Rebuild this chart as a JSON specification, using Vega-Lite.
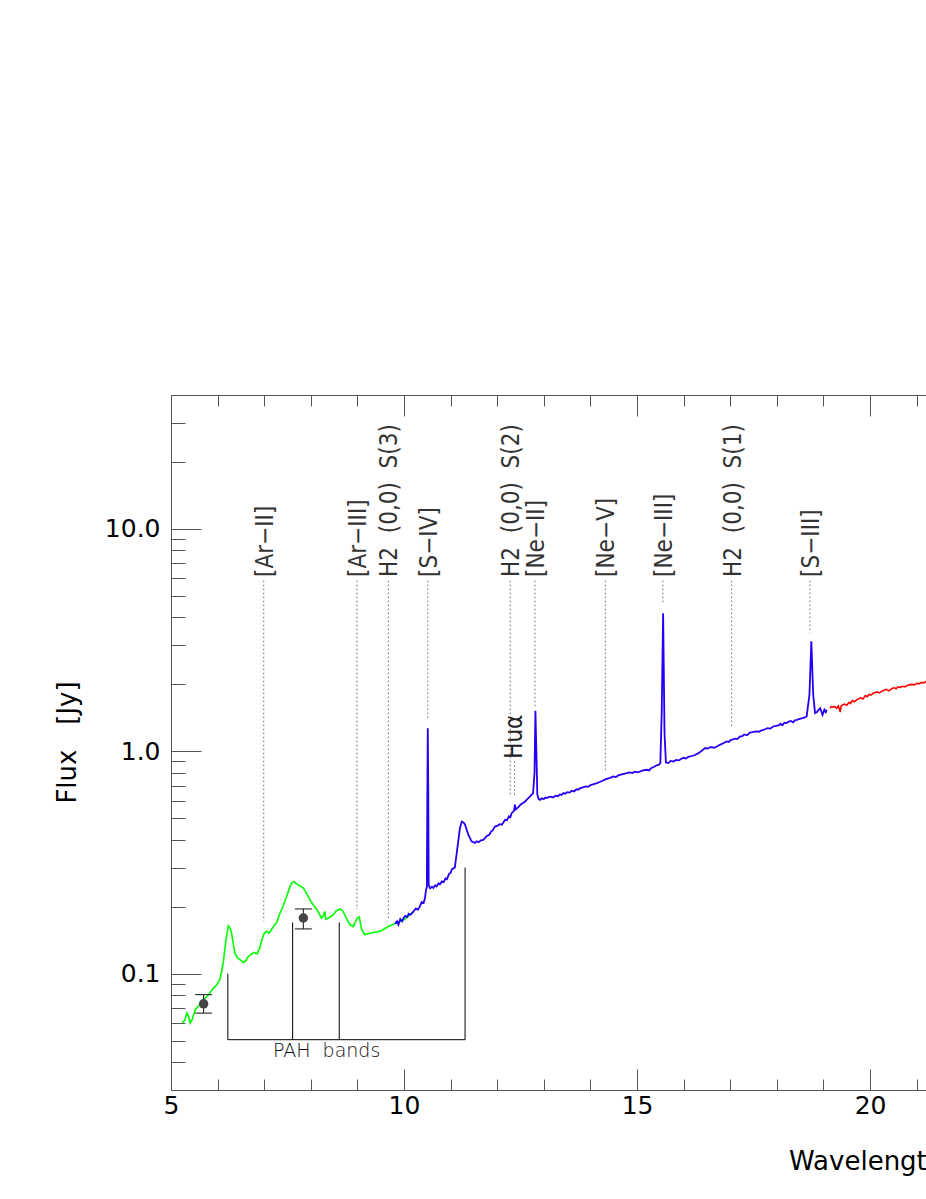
{
  "$schema": "https://vega.github.io/schema/vega-lite/v6.json",
  "autosize": {"type": "none"},
  "width": 1468,
  "height": 695,
  "padding": {"left": 171, "top": 395, "right": 10, "bottom": 114},
  "background": "white",
  "config": {
    "view": {"stroke": null},
    "axis": {
      "grid": false,
      "domainColor": "#555",
      "tickColor": "#555",
      "tickWidth": 1,
      "domainWidth": 1,
      "labelFont": "DejaVu Sans",
      "labelFontSize": 25,
      "labelColor": "#000",
      "labelFlush": false,
      "labelOverlap": false,
      "titleFont": "DejaVu Sans",
      "titleFontSize": 26,
      "titleFontWeight": "normal",
      "titleColor": "#000"
    }
  },
  "datasets": {
    "green": [
      {"w": 5.24, "f": 0.060}, {"w": 5.30, "f": 0.062}, {"w": 5.34, "f": 0.0666}, {"w": 5.37, "f": 0.065},
      {"w": 5.41, "f": 0.060}, {"w": 5.45, "f": 0.062}, {"w": 5.52, "f": 0.0689}, {"w": 5.60, "f": 0.072},
      {"w": 5.69, "f": 0.0764}, {"w": 5.80, "f": 0.080}, {"w": 5.91, "f": 0.0862}, {"w": 5.98, "f": 0.089},
      {"w": 6.05, "f": 0.094}, {"w": 6.12, "f": 0.1117}, {"w": 6.18, "f": 0.142}, {"w": 6.23, "f": 0.164},
      {"w": 6.27, "f": 0.160}, {"w": 6.30, "f": 0.152}, {"w": 6.37, "f": 0.124}, {"w": 6.42, "f": 0.118},
      {"w": 6.48, "f": 0.1156}, {"w": 6.55, "f": 0.1124}, {"w": 6.60, "f": 0.114}, {"w": 6.66, "f": 0.1197},
      {"w": 6.70, "f": 0.121}, {"w": 6.77, "f": 0.1247}, {"w": 6.85, "f": 0.123}, {"w": 6.90, "f": 0.130},
      {"w": 6.95, "f": 0.142}, {"w": 7.00, "f": 0.152}, {"w": 7.05, "f": 0.155}, {"w": 7.10, "f": 0.152},
      {"w": 7.20, "f": 0.163}, {"w": 7.27, "f": 0.170}, {"w": 7.34, "f": 0.1876}, {"w": 7.40, "f": 0.200},
      {"w": 7.48, "f": 0.2226}, {"w": 7.55, "f": 0.245}, {"w": 7.59, "f": 0.2557}, {"w": 7.64, "f": 0.260},
      {"w": 7.68, "f": 0.255}, {"w": 7.73, "f": 0.251}, {"w": 7.84, "f": 0.2427}, {"w": 7.90, "f": 0.232},
      {"w": 7.98, "f": 0.215}, {"w": 8.05, "f": 0.204}, {"w": 8.13, "f": 0.194}, {"w": 8.23, "f": 0.178},
      {"w": 8.27, "f": 0.182}, {"w": 8.30, "f": 0.1905}, {"w": 8.32, "f": 0.176}, {"w": 8.38, "f": 0.178},
      {"w": 8.48, "f": 0.184}, {"w": 8.55, "f": 0.192}, {"w": 8.63, "f": 0.1955}, {"w": 8.68, "f": 0.192},
      {"w": 8.73, "f": 0.184}, {"w": 8.80, "f": 0.172}, {"w": 8.84, "f": 0.166}, {"w": 8.91, "f": 0.163},
      {"w": 8.96, "f": 0.172}, {"w": 9.00, "f": 0.178}, {"w": 9.04, "f": 0.180}, {"w": 9.09, "f": 0.158},
      {"w": 9.16, "f": 0.150}, {"w": 9.27, "f": 0.152}, {"w": 9.40, "f": 0.154}, {"w": 9.48, "f": 0.155},
      {"w": 9.60, "f": 0.160}, {"w": 9.66, "f": 0.163}, {"w": 9.75, "f": 0.166}, {"w": 9.84, "f": 0.169},
      {"w": 9.92, "f": 0.172}, {"w": 9.99, "f": 0.1745}, {"w": 10.10, "f": 0.182}, {"w": 10.20, "f": 0.1905}
    ],
    "blue": [
      {"w": 9.81, "f": 0.168}, {"w": 9.85, "f": 0.172}, {"w": 9.88, "f": 0.166}, {"w": 9.92, "f": 0.176},
      {"w": 9.96, "f": 0.172}, {"w": 9.99, "f": 0.178}, {"w": 10.03, "f": 0.182}, {"w": 10.07, "f": 0.180},
      {"w": 10.10, "f": 0.186}, {"w": 10.14, "f": 0.184}, {"w": 10.20, "f": 0.190}, {"w": 10.25, "f": 0.196},
      {"w": 10.30, "f": 0.194}, {"w": 10.34, "f": 0.2007}, {"w": 10.38, "f": 0.210}, {"w": 10.42, "f": 0.208},
      {"w": 10.45, "f": 0.219}, {"w": 10.47, "f": 0.237}, {"w": 10.49, "f": 0.245}, {"w": 10.50, "f": 0.6},
      {"w": 10.51, "f": 1.27}, {"w": 10.52, "f": 0.7}, {"w": 10.53, "f": 0.25}, {"w": 10.56, "f": 0.242},
      {"w": 10.60, "f": 0.246}, {"w": 10.63, "f": 0.243}, {"w": 10.67, "f": 0.250}, {"w": 10.70, "f": 0.247},
      {"w": 10.74, "f": 0.255}, {"w": 10.77, "f": 0.252}, {"w": 10.81, "f": 0.260}, {"w": 10.85, "f": 0.258},
      {"w": 10.89, "f": 0.268}, {"w": 10.92, "f": 0.266}, {"w": 10.97, "f": 0.282}, {"w": 11.00, "f": 0.284},
      {"w": 11.03, "f": 0.295}, {"w": 11.09, "f": 0.300}, {"w": 11.14, "f": 0.360}, {"w": 11.20, "f": 0.452},
      {"w": 11.24, "f": 0.4835}, {"w": 11.28, "f": 0.478}, {"w": 11.31, "f": 0.468}, {"w": 11.38, "f": 0.4217},
      {"w": 11.45, "f": 0.3935}, {"w": 11.52, "f": 0.387}, {"w": 11.56, "f": 0.394}, {"w": 11.60, "f": 0.390},
      {"w": 11.65, "f": 0.398}, {"w": 11.70, "f": 0.400}, {"w": 11.75, "f": 0.410}, {"w": 11.79, "f": 0.418},
      {"w": 11.83, "f": 0.4217}, {"w": 11.87, "f": 0.436}, {"w": 11.90, "f": 0.440}, {"w": 11.95, "f": 0.459},
      {"w": 12.00, "f": 0.462}, {"w": 12.05, "f": 0.470}, {"w": 12.10, "f": 0.468}, {"w": 12.17, "f": 0.492},
      {"w": 12.21, "f": 0.490}, {"w": 12.25, "f": 0.510}, {"w": 12.28, "f": 0.505}, {"w": 12.31, "f": 0.527},
      {"w": 12.36, "f": 0.540}, {"w": 12.38, "f": 0.575}, {"w": 12.40, "f": 0.548}, {"w": 12.45, "f": 0.560},
      {"w": 12.50, "f": 0.575}, {"w": 12.55, "f": 0.585}, {"w": 12.59, "f": 0.592}, {"w": 12.63, "f": 0.605},
      {"w": 12.70, "f": 0.625}, {"w": 12.77, "f": 0.649}, {"w": 12.80, "f": 0.8},
      {"w": 12.82, "f": 1.52}, {"w": 12.84, "f": 1.0}, {"w": 12.86, "f": 0.64}, {"w": 12.89, "f": 0.610},
      {"w": 12.92, "f": 0.605}, {"w": 12.96, "f": 0.615}, {"w": 13.00, "f": 0.610}, {"w": 13.03, "f": 0.620},
      {"w": 13.06, "f": 0.616}, {"w": 13.10, "f": 0.622}, {"w": 13.15, "f": 0.625}, {"w": 13.20, "f": 0.620},
      {"w": 13.25, "f": 0.632}, {"w": 13.30, "f": 0.628}, {"w": 13.35, "f": 0.640}, {"w": 13.38, "f": 0.636},
      {"w": 13.42, "f": 0.649}, {"w": 13.46, "f": 0.645}, {"w": 13.50, "f": 0.655}, {"w": 13.55, "f": 0.652},
      {"w": 13.60, "f": 0.665}, {"w": 13.65, "f": 0.660}, {"w": 13.70, "f": 0.675}, {"w": 13.74, "f": 0.672},
      {"w": 13.78, "f": 0.683}, {"w": 13.84, "f": 0.688}, {"w": 13.90, "f": 0.695}, {"w": 13.95, "f": 0.692},
      {"w": 14.00, "f": 0.705}, {"w": 14.07, "f": 0.712}, {"w": 14.14, "f": 0.720}, {"w": 14.20, "f": 0.728},
      {"w": 14.25, "f": 0.735}, {"w": 14.30, "f": 0.744}, {"w": 14.35, "f": 0.752}, {"w": 14.42, "f": 0.760},
      {"w": 14.49, "f": 0.771}, {"w": 14.55, "f": 0.766}, {"w": 14.60, "f": 0.780}, {"w": 14.65, "f": 0.785},
      {"w": 14.70, "f": 0.790}, {"w": 14.78, "f": 0.798}, {"w": 14.85, "f": 0.804}, {"w": 14.90, "f": 0.798},
      {"w": 14.95, "f": 0.810}, {"w": 15.00, "f": 0.805}, {"w": 15.06, "f": 0.811}, {"w": 15.13, "f": 0.820},
      {"w": 15.21, "f": 0.826}, {"w": 15.26, "f": 0.820}, {"w": 15.30, "f": 0.840}, {"w": 15.36, "f": 0.850},
      {"w": 15.42, "f": 0.865}, {"w": 15.47, "f": 0.870}, {"w": 15.50, "f": 0.885}, {"w": 15.53, "f": 1.5},
      {"w": 15.56, "f": 4.18}, {"w": 15.59, "f": 1.2}, {"w": 15.62, "f": 0.890}, {"w": 15.67, "f": 0.885},
      {"w": 15.72, "f": 0.905}, {"w": 15.78, "f": 0.900}, {"w": 15.84, "f": 0.915}, {"w": 15.90, "f": 0.910},
      {"w": 15.95, "f": 0.925}, {"w": 16.00, "f": 0.935}, {"w": 16.05, "f": 0.928}, {"w": 16.10, "f": 0.945},
      {"w": 16.14, "f": 0.948}, {"w": 16.20, "f": 0.955}, {"w": 16.25, "f": 0.965}, {"w": 16.32, "f": 0.981},
      {"w": 16.36, "f": 0.995}, {"w": 16.40, "f": 1.01}, {"w": 16.46, "f": 1.034}, {"w": 16.52, "f": 1.028},
      {"w": 16.56, "f": 1.042}, {"w": 16.60, "f": 1.045}, {"w": 16.66, "f": 1.038}, {"w": 16.71, "f": 1.051},
      {"w": 16.76, "f": 1.065}, {"w": 16.80, "f": 1.075}, {"w": 16.86, "f": 1.09}, {"w": 16.92, "f": 1.107},
      {"w": 16.97, "f": 1.10}, {"w": 17.00, "f": 1.12}, {"w": 17.05, "f": 1.13}, {"w": 17.10, "f": 1.14},
      {"w": 17.15, "f": 1.135}, {"w": 17.21, "f": 1.166}, {"w": 17.26, "f": 1.17}, {"w": 17.30, "f": 1.19},
      {"w": 17.36, "f": 1.18}, {"w": 17.42, "f": 1.215}, {"w": 17.48, "f": 1.22}, {"w": 17.55, "f": 1.23},
      {"w": 17.62, "f": 1.225}, {"w": 17.66, "f": 1.24}, {"w": 17.71, "f": 1.249}, {"w": 17.76, "f": 1.26},
      {"w": 17.80, "f": 1.27}, {"w": 17.86, "f": 1.265}, {"w": 17.92, "f": 1.293}, {"w": 17.98, "f": 1.30},
      {"w": 18.05, "f": 1.31}, {"w": 18.08, "f": 1.33}, {"w": 18.12, "f": 1.31}, {"w": 18.16, "f": 1.345},
      {"w": 18.21, "f": 1.339}, {"w": 18.26, "f": 1.36}, {"w": 18.30, "f": 1.37}, {"w": 18.35, "f": 1.35},
      {"w": 18.39, "f": 1.38}, {"w": 18.43, "f": 1.386}, {"w": 18.49, "f": 1.40}, {"w": 18.55, "f": 1.41},
      {"w": 18.60, "f": 1.42}, {"w": 18.64, "f": 1.434}, {"w": 18.70, "f": 1.8}, {"w": 18.74, "f": 3.12},
      {"w": 18.78, "f": 1.8}, {"w": 18.82, "f": 1.485}, {"w": 18.86, "f": 1.50}, {"w": 18.88, "f": 1.52},
      {"w": 18.93, "f": 1.563}, {"w": 18.96, "f": 1.50}, {"w": 18.98, "f": 1.46}, {"w": 19.02, "f": 1.54},
      {"w": 19.05, "f": 1.50}, {"w": 19.07, "f": 1.536}
    ],
    "red": [
      {"w": 19.14, "f": 1.563}, {"w": 19.17, "f": 1.59}, {"w": 19.20, "f": 1.58}, {"w": 19.24, "f": 1.59},
      {"w": 19.28, "f": 1.56}, {"w": 19.32, "f": 1.60}, {"w": 19.36, "f": 1.50}, {"w": 19.38, "f": 1.60},
      {"w": 19.42, "f": 1.62}, {"w": 19.45, "f": 1.63}, {"w": 19.50, "f": 1.61}, {"w": 19.55, "f": 1.66},
      {"w": 19.58, "f": 1.64}, {"w": 19.62, "f": 1.69}, {"w": 19.66, "f": 1.67}, {"w": 19.71, "f": 1.704},
      {"w": 19.75, "f": 1.72}, {"w": 19.80, "f": 1.74}, {"w": 19.85, "f": 1.72}, {"w": 19.90, "f": 1.78},
      {"w": 19.94, "f": 1.76}, {"w": 19.98, "f": 1.80}, {"w": 20.02, "f": 1.79}, {"w": 20.07, "f": 1.826},
      {"w": 20.11, "f": 1.84}, {"w": 20.15, "f": 1.85}, {"w": 20.20, "f": 1.83}, {"w": 20.25, "f": 1.86},
      {"w": 20.30, "f": 1.88}, {"w": 20.35, "f": 1.90}, {"w": 20.40, "f": 1.87}, {"w": 20.43, "f": 1.89},
      {"w": 20.48, "f": 1.92}, {"w": 20.52, "f": 1.93}, {"w": 20.56, "f": 1.91}, {"w": 20.60, "f": 1.95},
      {"w": 20.65, "f": 1.94}, {"w": 20.70, "f": 1.96}, {"w": 20.74, "f": 1.95}, {"w": 20.79, "f": 1.97},
      {"w": 20.84, "f": 1.99}, {"w": 20.90, "f": 2.00}, {"w": 20.95, "f": 1.99}, {"w": 21.00, "f": 2.02},
      {"w": 21.05, "f": 2.01}, {"w": 21.10, "f": 2.04}, {"w": 21.15, "f": 2.03}, {"w": 21.20, "f": 2.06},
      {"w": 21.30, "f": 2.07}
    ],
    "lines": [
      {"w": 6.99, "top": 5.85, "end": 0.172, "label": "[Ar−II]"},
      {"w": 8.99, "top": 5.85, "end": 0.195, "label": "[Ar−III]"},
      {"w": 9.665, "top": 5.85, "end": 0.178, "label": "H2\u00a0\u00a0(0,0)\u00a0\u00a0S(3)"},
      {"w": 10.51, "top": 5.85, "end": 1.386, "label": "[S−IV]"},
      {"w": 12.28, "top": 5.85, "end": 0.63, "label": "H2\u00a0\u00a0(0,0)\u00a0\u00a0S(2)"},
      {"w": 12.81, "top": 5.85, "end": 1.59, "label": "[Ne−II]"},
      {"w": 14.32, "top": 5.85, "end": 0.81, "label": "[Ne−V]"},
      {"w": 15.555, "top": 5.85, "end": 4.6, "label": "[Ne−III]"},
      {"w": 17.03, "top": 5.85, "end": 1.29, "label": "H2\u00a0\u00a0(0,0)\u00a0\u00a0S(1)"},
      {"w": 18.71, "top": 5.85, "end": 3.4, "label": "[S−III]"}
    ],
    "hua": [{"w": 12.37, "top": 0.90, "end": 0.63, "label": "Huα"}],
    "pah": [
      {"w": 6.22, "base": 0.0505, "top": 0.100},
      {"w": 7.61, "base": 0.0505, "top": 0.170},
      {"w": 8.61, "base": 0.0505, "top": 0.170},
      {"w": 11.31, "base": 0.0505, "top": 0.300}
    ],
    "phot": [
      {"w": 5.70, "f": 0.0732, "lo": 0.0665, "hi": 0.0805},
      {"w": 7.84, "f": 0.178, "lo": 0.159, "hi": 0.1955}
    ]
  },
  "resolve": {"axis": {"x": "independent", "y": "independent"}},
  "layer": [
    {
      "data": {"name": "green"},
      "mark": {"type": "line", "color": "#00ff00", "strokeWidth": 1.6},
      "encoding": {
        "x": {"field": "w", "type": "quantitative", "scale": {"domain": [5, 36.5], "nice": false, "zero": false},
          "axis": {"orient": "bottom", "values": [5, 10, 15, 20, 25, 30, 35], "format": "d", "tickSize": -21, "labelPadding": 24,
            "title": "Wavelength\u00a0\u00a0[μm]", "titlePadding": 30}},
        "y": {"field": "f", "type": "quantitative", "scale": {"type": "log", "domain": [0.03, 40], "nice": false},
          "axis": {"orient": "left", "values": [0.1, 1, 10], "format": ".1f", "tickSize": -30, "labelPadding": 41,
            "title": "Flux\u00a0\u00a0\u00a0[Jy]", "titleX": -104, "titleY": 347, "titleBaseline": "middle", "titleAngle": 270, "titleAlign": "center"}}
      }
    },
    {
      "data": {"name": "blue"},
      "mark": {"type": "line", "color": "#2200f5", "strokeWidth": 1.8},
      "encoding": {
        "x": {"field": "w", "type": "quantitative", "scale": {"domain": [5, 36.5], "nice": false, "zero": false},
          "axis": {"orient": "bottom", "values": [6, 7, 8, 9, 11, 12, 13, 14, 16, 17, 18, 19, 21, 22, 23, 24, 26, 27, 28, 29, 31, 32, 33, 34, 36], "tickSize": -11, "labels": false, "domain": false, "title": null}},
        "y": {"field": "f", "type": "quantitative", "scale": {"type": "log", "domain": [0.03, 40], "nice": false},
          "axis": {"orient": "left", "values": [0.04, 0.05, 0.06, 0.07, 0.08, 0.09, 0.2, 0.3, 0.4, 0.5, 0.6, 0.7, 0.8, 0.9, 2, 3, 4, 5, 6, 7, 8, 9, 20, 30], "tickSize": -14, "labels": false, "domain": false, "title": null}}
      }
    },
    {
      "data": {"name": "red"},
      "mark": {"type": "line", "color": "#ff0000", "strokeWidth": 1.6},
      "encoding": {
        "x": {"field": "w", "type": "quantitative", "scale": {"domain": [5, 36.5], "nice": false, "zero": false},
          "axis": {"orient": "top", "values": [5, 10, 15, 20, 25, 30, 35], "tickSize": -21, "labels": false, "title": null}},
        "y": {"field": "f", "type": "quantitative", "scale": {"type": "log", "domain": [0.03, 40], "nice": false},
          "axis": {"orient": "right", "values": [0.1, 1, 10], "tickSize": -30, "labels": false, "title": null}}
      }
    },
    {
      "data": {"name": "lines"},
      "mark": {"type": "rule", "color": "#666", "strokeWidth": 1, "strokeDash": [1.5, 2.5]},
      "encoding": {
        "x": {"field": "w", "type": "quantitative", "scale": {"domain": [5, 36.5], "nice": false, "zero": false},
          "axis": {"orient": "top", "values": [6, 7, 8, 9, 11, 12, 13, 14, 16, 17, 18, 19, 21, 22, 23, 24, 26, 27, 28, 29, 31, 32, 33, 34, 36], "tickSize": -11, "labels": false, "domain": false, "title": null}},
        "y": {"field": "top", "type": "quantitative", "scale": {"type": "log", "domain": [0.03, 40], "nice": false},
          "axis": {"orient": "right", "values": [0.04, 0.05, 0.06, 0.07, 0.08, 0.09, 0.2, 0.3, 0.4, 0.5, 0.6, 0.7, 0.8, 0.9, 2, 3, 4, 5, 6, 7, 8, 9, 20, 30], "tickSize": -14, "labels": false, "domain": false, "title": null}},
        "y2": {"field": "end"}
      }
    },
    {
      "data": {"name": "lines"},
      "mark": {"type": "text", "angle": 270, "align": "left", "baseline": "middle", "font": "DejaVu Sans Condensed, DejaVu Sans", "fontSize": 24, "fontWeight": 300, "color": "#333", "dy": 2},
      "encoding": {
        "x": {"field": "w", "type": "quantitative", "scale": {"domain": [5, 36.5], "nice": false, "zero": false}, "axis": null},
        "y": {"datum": 6.08, "type": "quantitative", "scale": {"type": "log", "domain": [0.03, 40], "nice": false}, "axis": null},
        "text": {"field": "label"}
      }
    },
    {
      "data": {"name": "hua"},
      "mark": {"type": "rule", "color": "#666", "strokeWidth": 1, "strokeDash": [1.5, 2.5]},
      "encoding": {
        "x": {"field": "w", "type": "quantitative", "scale": {"domain": [5, 36.5], "nice": false, "zero": false}, "axis": null},
        "y": {"field": "top", "type": "quantitative", "scale": {"type": "log", "domain": [0.03, 40], "nice": false}, "axis": null},
        "y2": {"field": "end"}
      }
    },
    {
      "data": {"name": "hua"},
      "mark": {"type": "text", "angle": 270, "align": "left", "baseline": "middle", "font": "DejaVu Sans Condensed, DejaVu Sans", "fontSize": 24, "fontWeight": 300, "color": "#222", "dy": 1},
      "encoding": {
        "x": {"field": "w", "type": "quantitative", "scale": {"domain": [5, 36.5], "nice": false, "zero": false}, "axis": null},
        "y": {"datum": 0.925, "type": "quantitative", "scale": {"type": "log", "domain": [0.03, 40], "nice": false}, "axis": null},
        "text": {"field": "label"}
      }
    },
    {
      "data": {"name": "pah"},
      "mark": {"type": "rule", "color": "#000", "strokeWidth": 1},
      "encoding": {
        "x": {"field": "w", "type": "quantitative", "scale": {"domain": [5, 36.5], "nice": false, "zero": false}, "axis": null},
        "y": {"field": "base", "type": "quantitative", "scale": {"type": "log", "domain": [0.03, 40], "nice": false}, "axis": null},
        "y2": {"field": "top"}
      }
    },
    {
      "data": {"name": "pah"},
      "transform": [{"aggregate": [{"op": "min", "field": "w", "as": "w0"}, {"op": "max", "field": "w", "as": "w1"}, {"op": "min", "field": "base", "as": "b"}]}],
      "mark": {"type": "rule", "color": "#000", "strokeWidth": 1},
      "encoding": {
        "x": {"field": "w0", "type": "quantitative", "scale": {"domain": [5, 36.5], "nice": false, "zero": false}, "axis": null},
        "x2": {"field": "w1"},
        "y": {"field": "b", "type": "quantitative", "scale": {"type": "log", "domain": [0.03, 40], "nice": false}, "axis": null}
      }
    },
    {
      "data": {"values": [{"w": 8.34, "label": "PAH\u00a0\u00a0bands"}]},
      "mark": {"type": "text", "align": "center", "baseline": "alphabetic", "font": "DejaVu Sans", "fontSize": 19, "fontWeight": 300, "color": "#111"},
      "encoding": {
        "x": {"field": "w", "type": "quantitative", "scale": {"domain": [5, 36.5], "nice": false, "zero": false}, "axis": null},
        "y": {"datum": 0.0424, "type": "quantitative", "scale": {"type": "log", "domain": [0.03, 40], "nice": false}, "axis": null},
        "text": {"field": "label"}
      }
    },
    {
      "data": {"name": "phot"},
      "mark": {"type": "rule", "color": "#111", "strokeWidth": 1},
      "encoding": {
        "x": {"field": "w", "type": "quantitative", "scale": {"domain": [5, 36.5], "nice": false, "zero": false}, "axis": null},
        "y": {"field": "lo", "type": "quantitative", "scale": {"type": "log", "domain": [0.03, 40], "nice": false}, "axis": null},
        "y2": {"field": "hi"}
      }
    },
    {
      "data": {"name": "phot"},
      "mark": {"type": "tick", "orient": "horizontal", "size": 17, "thickness": 1, "color": "#111", "opacity": 1},
      "encoding": {
        "x": {"field": "w", "type": "quantitative", "scale": {"domain": [5, 36.5], "nice": false, "zero": false}, "axis": null},
        "y": {"field": "lo", "type": "quantitative", "scale": {"type": "log", "domain": [0.03, 40], "nice": false}, "axis": null}
      }
    },
    {
      "data": {"name": "phot"},
      "mark": {"type": "tick", "orient": "horizontal", "size": 17, "thickness": 1, "color": "#111", "opacity": 1},
      "encoding": {
        "x": {"field": "w", "type": "quantitative", "scale": {"domain": [5, 36.5], "nice": false, "zero": false}, "axis": null},
        "y": {"field": "hi", "type": "quantitative", "scale": {"type": "log", "domain": [0.03, 40], "nice": false}, "axis": null}
      }
    },
    {
      "data": {"name": "phot"},
      "mark": {"type": "point", "filled": true, "shape": "circle", "size": 90, "color": "#444", "opacity": 1},
      "encoding": {
        "x": {"field": "w", "type": "quantitative", "scale": {"domain": [5, 36.5], "nice": false, "zero": false}, "axis": null},
        "y": {"field": "f", "type": "quantitative", "scale": {"type": "log", "domain": [0.03, 40], "nice": false}, "axis": null}
      }
    }
  ]
}
